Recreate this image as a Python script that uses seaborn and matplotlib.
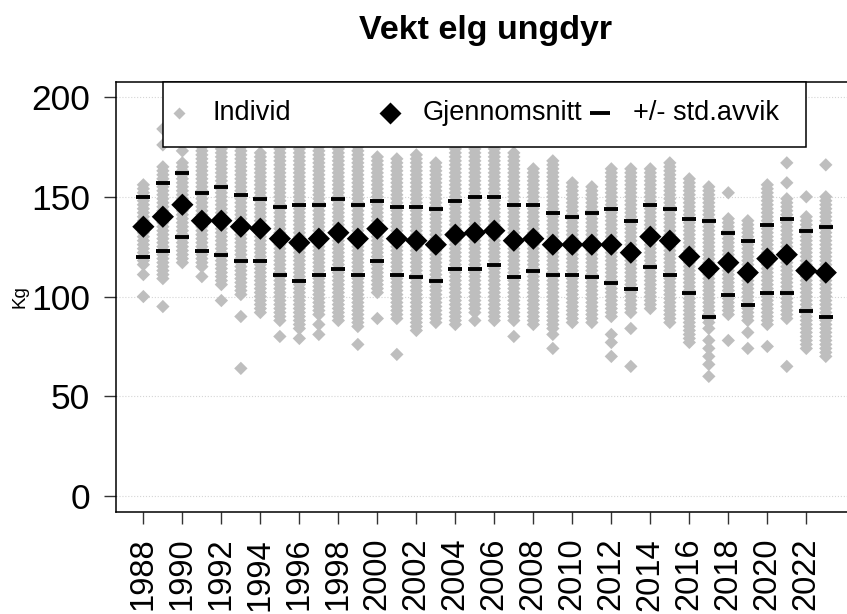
import numpy as np
import pandas as pd
import matplotlib
matplotlib.use("Agg")
import matplotlib.pyplot as plt
from matplotlib.patches import Rectangle
import seaborn as sns

# ---------------------------------------------------------------------------
# Data
# ---------------------------------------------------------------------------
years = list(range(1988, 2024))

mean_kg = [135, 140, 146, 138, 138, 135, 134, 129, 127, 129, 132, 129,
           134, 129, 128, 126, 131, 132, 133, 128, 129, 126, 126, 126,
           126, 122, 130, 128, 120, 114, 117, 112, 119, 121, 113, 112]

sd_upper = [150, 157, 162, 152, 155, 151, 149, 145, 146, 146, 149, 146,
            148, 145, 145, 144, 148, 150, 150, 146, 146, 142, 140, 142,
            144, 138, 146, 144, 139, 138, 132, 128, 136, 139, 133, 135]

sd_lower = [120, 123, 130, 123, 121, 118, 118, 111, 108, 111, 114, 111,
            118, 111, 110, 108, 114, 114, 116, 110, 113, 111, 111, 110,
            107, 104, 115, 111, 102, 90, 101, 96, 102, 102, 93, 90]

# individual weights: each year forms a solid band of whole-kg values
# (band_lo .. band_hi), plus single animals outside the band
band_hi = [157, 165, 168, 178, 178, 178, 172, 178, 178, 178, 178, 178,
           170, 170, 172, 167, 178, 178, 178, 173, 164, 169, 158, 155,
           165, 165, 165, 168, 160, 155, 140, 139, 157, 149, 141, 150]

band_lo = [116, 109, 117, 115, 106, 101, 92, 88, 84, 91, 88, 85,
           102, 89, 83, 87, 86, 92, 88, 88, 86, 84, 87, 87,
           90, 92, 94, 87, 77, 87, 91, 88, 86, 89, 74, 70]

single_animals = {
    1988: [111, 100], 1989: [184, 176, 95], 1990: [173], 1991: [110],
    1992: [98], 1993: [90, 64], 1995: [80], 1996: [79], 1997: [86, 81],
    1999: [76], 2000: [89], 2001: [71], 2005: [88], 2007: [80],
    2009: [81, 74], 2012: [81, 77, 70], 2013: [84, 65],
    2017: [84, 78, 74, 70, 66, 60], 2018: [152, 78], 2019: [82, 74],
    2020: [75], 2021: [167, 157, 65], 2022: [150], 2023: [166],
}

legend_labels = ["Individ", "Gjennomsnitt", "+/- std.avvik"]

GREY = "#bebebe"

# ---------------------------------------------------------------------------
# Tables for seaborn
# ---------------------------------------------------------------------------
rows = []
for yr, lo, hi in zip(years, band_lo, band_hi):
    for kg in range(lo, hi + 1, 2):
        rows.append((yr, kg))
    for kg in single_animals.get(yr, []):
        rows.append((yr, kg))
df_ind = pd.DataFrame(rows, columns=["aar", "kg"])

df_mean = pd.DataFrame({"aar": years, "kg": mean_kg})
df_sd = pd.DataFrame({"aar": years * 2, "kg": sd_upper + sd_lower})

# ---------------------------------------------------------------------------
# Figure
# ---------------------------------------------------------------------------
sns.set_theme(style="white")
plt.rcParams["font.family"] = ["Liberation Sans", "DejaVu Sans"]
plt.rcParams.update({"text.color": "black", "axes.labelcolor": "black",
                     "xtick.color": "#333333", "ytick.color": "#333333",
                     "xtick.labelcolor": "black", "ytick.labelcolor": "black"})

fig = plt.figure(figsize=(8.47, 6.14), dpi=100)
ax = fig.add_axes([0.1375, 0.166, 0.872, 0.7004])

sns.scatterplot(data=df_ind, x="aar", y="kg", marker="D", s=46,
                color=GREY, edgecolor="none", linewidth=0, ax=ax,
                legend=False, zorder=2)
sns.scatterplot(data=df_mean, x="aar", y="kg", marker="D", s=128,
                color="black", edgecolor="none", linewidth=0, ax=ax,
                legend=False, zorder=3)
sns.scatterplot(data=df_sd, x="aar", y="kg", marker="_", s=100,
                color="black", linewidth=2.8, ax=ax,
                legend=False, zorder=4)

ax.set_xlim(1986.62, 2024.5)
ax.set_ylim(-8, 207.5)
ax.set_xticks(range(1988, 2023, 2))
ax.set_xticklabels([str(y) for y in range(1988, 2023, 2)], rotation=90)
ax.set_yticks([0, 50, 100, 150, 200])
ax.tick_params(axis="x", labelsize=23.5, length=8.5, width=1,
               pad=10, bottom=True)
ax.tick_params(axis="y", labelsize=25.5, length=9, width=1,
               pad=10, left=True)
ax.yaxis.grid(True, linestyle=":", linewidth=0.8, color="#d5d5d5")
ax.set_axisbelow(True)
for sp in ax.spines.values():
    sp.set_color("black")
    sp.set_linewidth(1.1)

ax.set_xlabel("")
ax.set_ylabel("Kg", fontsize=13.5, labelpad=2)
ax.set_title("Vekt elg ungdyr", fontsize=24.5, fontweight="bold", pad=31,
             color="black")

# legend box spanning the top of the plot with equal-width entries
ax.add_patch(Rectangle((0.063, 0.849), 0.8706, 0.151, transform=ax.transAxes,
                       facecolor="white", edgecolor="black", linewidth=1.1,
                       zorder=5, clip_on=False))
leg_y = 0.928
ax.plot([0.0846], [leg_y], transform=ax.transAxes, marker="D", ms=6,
        color=GREY, mec="none", zorder=6, clip_on=False)
ax.plot([0.3703], [leg_y], transform=ax.transAxes, marker="D", ms=11,
        color="black", mec="none", zorder=6, clip_on=False)
ax.plot([0.6547], [leg_y], transform=ax.transAxes, marker="_", ms=14,
        mew=2.8, color="black", zorder=6, clip_on=False)
for x0, lab in zip([0.1307, 0.415, 0.6994], legend_labels):
    ax.text(x0, leg_y, lab, transform=ax.transAxes, fontsize=19.5,
            va="center", ha="left", zorder=6, color="black")

fig.savefig("out.png", dpi=100)
